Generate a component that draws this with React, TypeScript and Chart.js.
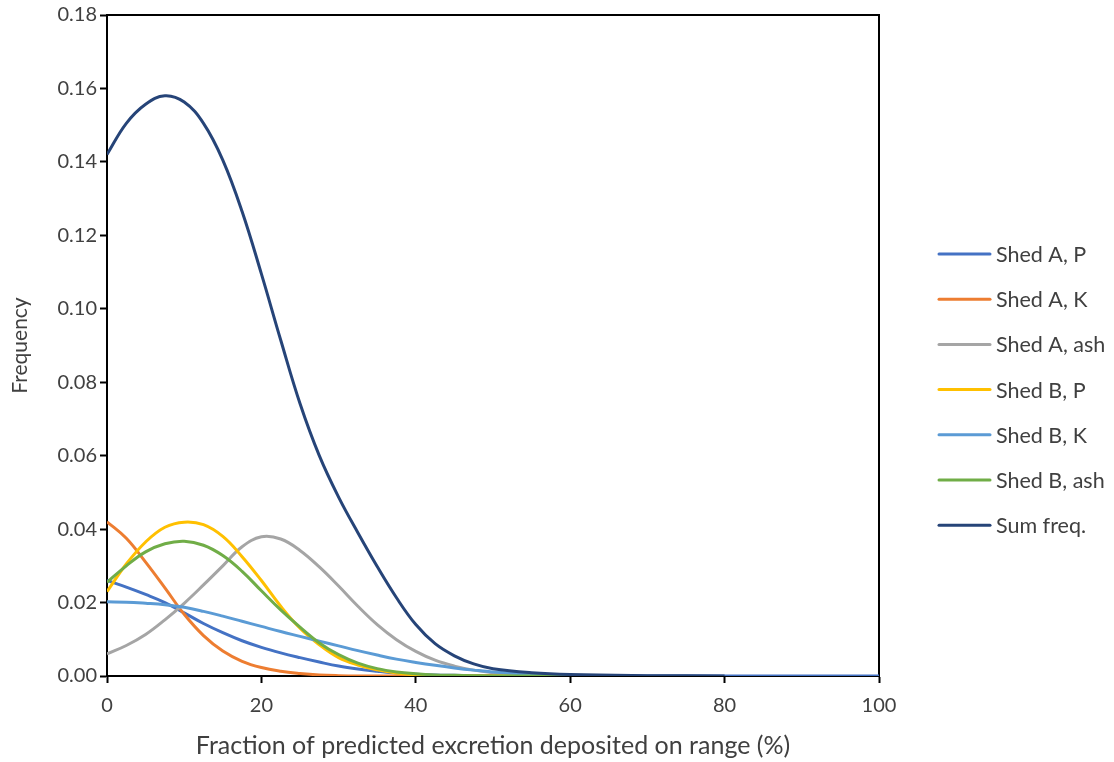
import React, { useEffect, useRef } from "react";
import { Chart, registerables } from "chart.js";

Chart.register(...registerables);

// ---- data ----
const xValues = [0, 2.5, 5, 7.5, 10, 12.5, 15, 17.5, 20, 22.5, 25, 27.5, 30, 32.5, 35, 37.5, 40, 42.5, 45, 47.5, 50, 55, 60, 70, 80, 90, 100];

const shedAP = [0.026, 0.0242, 0.0222, 0.02, 0.0172, 0.0143, 0.0118, 0.0096, 0.0078, 0.0063, 0.005, 0.0038, 0.0027, 0.0019, 0.0013, 0.0008, 0.0005, 0.0003, 0.0002, 0.0001, 0.0001, 0, 0, 0, 0, 0, 0];
const shedAK = [0.042, 0.0375, 0.031, 0.024, 0.0168, 0.011, 0.0068, 0.004, 0.0023, 0.0013, 0.0007, 0.0003, 0.0001, 0, 0, 0, 0, 0, 0, 0, 0, 0, 0, null, null, null, null];
const shedAash = [0.006, 0.0083, 0.0113, 0.0153, 0.0198, 0.0248, 0.03, 0.0352, 0.0379, 0.0373, 0.0342, 0.0297, 0.0245, 0.019, 0.014, 0.0099, 0.0067, 0.0043, 0.0027, 0.0016, 0.0009, 0.0003, 0.0001, null, null, null, null];
const shedBP = [0.023, 0.0305, 0.0365, 0.0405, 0.0419, 0.0412, 0.038, 0.0325, 0.026, 0.019, 0.013, 0.0085, 0.005, 0.003, 0.0017, 0.0008, 0.0003, 0.0001, 0, 0, 0, 0, 0, null, null, null, null];
const shedBK = [0.0202, 0.0201, 0.0198, 0.0194, 0.0187, 0.0176, 0.0163, 0.0149, 0.0135, 0.0121, 0.0108, 0.0095, 0.0082, 0.0069, 0.0057, 0.0046, 0.0037, 0.0029, 0.0022, 0.0016, 0.0011, 0.0005, 0.0002, null, null, null, null];
const shedBash = [0.0255, 0.03, 0.0338, 0.036, 0.0367, 0.0356, 0.0328, 0.0285, 0.0232, 0.018, 0.0133, 0.009, 0.0058, 0.0035, 0.002, 0.0011, 0.0006, 0.0003, 0.0002, 0.0001, 0, 0, 0, null, null, null, null];
const sumFreq = [0.142, 0.1505, 0.1557, 0.158, 0.1563, 0.1505, 0.1405, 0.1265, 0.1095, 0.0915, 0.0742, 0.06, 0.0487, 0.039, 0.0298, 0.0213, 0.014, 0.0088, 0.0055, 0.0033, 0.002, 0.0009, 0.0004, 0.0001, 0, null, null];

const seriesLabels = ["Shed A, P", "Shed A, K", "Shed A, ash", "Shed B, P", "Shed B, K", "Shed B, ash", "Sum freq."];
const seriesValues = [shedAP, shedAK, shedAash, shedBP, shedBK, shedBash, sumFreq];
const seriesColors = ["#4472C4", "#ED7D31", "#A5A5A5", "#FFC000", "#5B9BD5", "#70AD47", "#264478"];

const xTickValues = [0, 20, 40, 60, 80, 100];
const yMin = 0;
const yMax = 0.18;
const yStep = 0.02;

const xTitle = "Fraction of predicted excretion deposited on range (%)";
const yTitle = "Frequency";

// ---- layout constants ----
const W = 1114;
const H = 762;
const PLOT_LEFT = 107;
const PLOT_TOP = 15;
const PLOT_RIGHT = 879;
const PLOT_BOTTOM = 676;
const FONT = "Lato";
const TEXT = "#404040";
const LEGEND_LINE_X = 939;
const LEGEND_LINE_LEN = 51;
const LEGEND_TEXT_X = 996;
const LEGEND_TOP = 254;
const LEGEND_STEP = 45.2;

const framePlugin = {
  id: "frame",
  beforeDatasetsDraw(chart: any) {
    const { ctx, chartArea } = chart;
    ctx.save();
    ctx.strokeStyle = "#000";
    ctx.lineWidth = 2;
    ctx.strokeRect(chartArea.left, chartArea.top, chartArea.right - chartArea.left, chartArea.bottom - chartArea.top);
    ctx.restore();
  },
};

const sideLegendPlugin = {
  id: "sideLegend",
  afterDraw(chart: any) {
    const { ctx } = chart;
    ctx.save();
    ctx.font = `21.5px ${FONT}`;
    ctx.textBaseline = "middle";
    ctx.textAlign = "left";
    chart.data.datasets.forEach((ds: any, i: number) => {
      const y = LEGEND_TOP + i * LEGEND_STEP;
      ctx.strokeStyle = ds.borderColor;
      ctx.lineWidth = 3;
      ctx.lineCap = "round";
      ctx.beginPath();
      ctx.moveTo(LEGEND_LINE_X, y);
      ctx.lineTo(LEGEND_LINE_X + LEGEND_LINE_LEN, y);
      ctx.stroke();
      ctx.fillStyle = TEXT;
      ctx.fillText(ds.label, LEGEND_TEXT_X, y + 1);
    });
    ctx.restore();
  },
};

export default function App() {
  const canvasRef = useRef<HTMLCanvasElement | null>(null);

  useEffect(() => {
    if (!canvasRef.current) return;
    const n = seriesValues.length;
    const datasets = seriesValues.map((vals, i) => ({
      label: seriesLabels[i],
      data: xValues.map((x, k) => ({ x, y: vals[k] })),
      borderColor: seriesColors[i],
      backgroundColor: seriesColors[i],
      borderWidth: 3,
      pointRadius: 0,
      fill: false,
      tension: 0.4,
      spanGaps: false,
      order: n - 1 - i,
    }));

    const chart = new Chart(canvasRef.current, {
      type: "line",
      data: { datasets },
      plugins: [framePlugin, sideLegendPlugin],
      options: {
        animation: false,
        responsive: true,
        maintainAspectRatio: false,
        layout: { padding: { left: 0, top: PLOT_TOP, right: W - PLOT_RIGHT, bottom: 0 } },
        plugins: {
          tooltip: { enabled: false },
          legend: { display: false },
        },
        scales: {
          x: {
            type: "linear",
            min: 0,
            max: 100,
            afterBuildTicks: (s: any) => {
              s.ticks = xTickValues.map((v) => ({ value: v }));
            },
            ticks: { color: TEXT, font: { family: FONT, size: 20 }, padding: 11, maxRotation: 0 },
            grid: { display: true, drawOnChartArea: false, drawTicks: true, tickLength: 7, color: "#000", tickColor: "#000", tickWidth: 2 },
            border: { display: true, color: "#000", width: 2 },
            title: { display: true, text: xTitle, color: TEXT, font: { family: FONT, size: 25 }, padding: { top: 2, bottom: 1 } },
            afterFit: (s: any) => {
              s.height = H - PLOT_BOTTOM;
            },
          },
          y: {
            type: "linear",
            min: yMin,
            max: yMax,
            ticks: {
              stepSize: yStep,
              color: TEXT,
              font: { family: FONT, size: 20 },
              padding: 3,
              callback: (v: any) => Number(v).toFixed(2),
            },
            grid: { display: true, drawOnChartArea: false, drawTicks: true, tickLength: 7, color: "#000", tickColor: "#000", tickWidth: 2 },
            border: { display: true, color: "#000", width: 2 },
            title: { display: true, text: yTitle, color: TEXT, font: { family: FONT, size: 21 }, padding: { top: 8, bottom: 4 } },
            afterFit: (s: any) => {
              s.width = PLOT_LEFT;
            },
          },
        },
      } as any,
    });
    return () => chart.destroy();
  }, []);

  return (
    <div style={{ position: "fixed", left: 0, top: 0, width: W, height: H, background: "#fff" }}>
      <canvas ref={canvasRef} />
    </div>
  );
}
